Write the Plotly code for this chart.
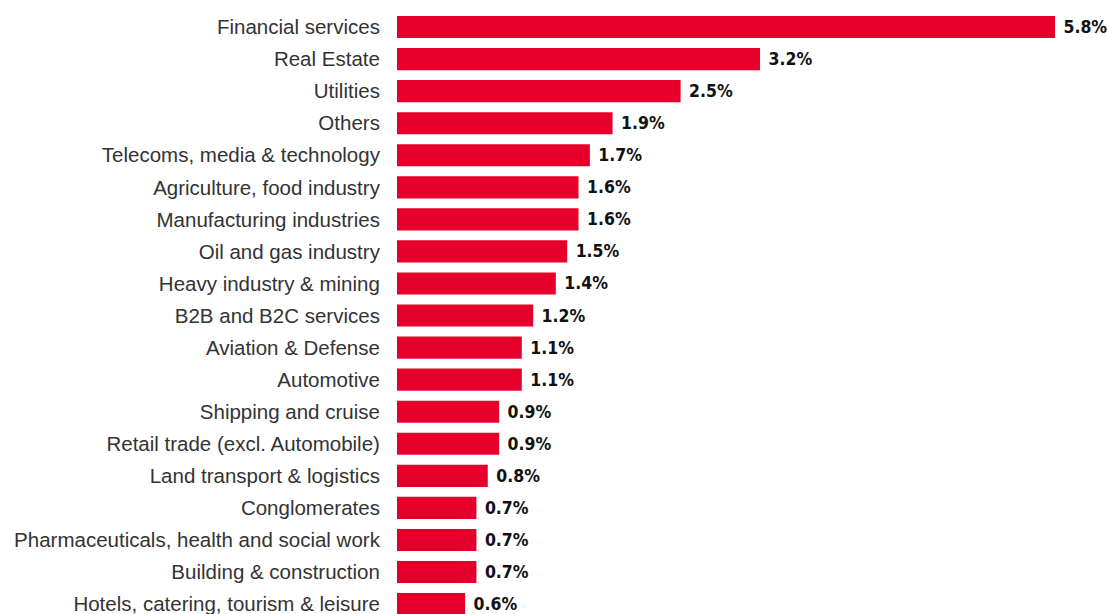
import plotly.graph_objects as go

categories = [
    "Financial services", "Real Estate", "Utilities", "Others",
    "Telecoms, media & technology", "Agriculture, food industry",
    "Manufacturing industries", "Oil and gas industry",
    "Heavy industry & mining", "B2B and B2C services",
    "Aviation & Defense", "Automotive", "Shipping and cruise",
    "Retail trade (excl. Automobile)", "Land transport & logistics",
    "Conglomerates", "Pharmaceuticals, health and social work",
    "Building & construction", "Hotels, catering, tourism & leisure",
]
values = [5.8, 3.2, 2.5, 1.9, 1.7, 1.6, 1.6, 1.5, 1.4, 1.2,
          1.1, 1.1, 0.9, 0.9, 0.8, 0.7, 0.7, 0.7, 0.6]
value_labels = [f" {v:.1f}%" for v in values]

fig = go.Figure(go.Bar(
    x=values, y=categories, orientation="h",
    marker=dict(color="#E4002B", line=dict(width=0)),
    width=0.69,
    text=value_labels, textposition="outside",
    textfont=dict(family="DejaVu Sans Condensed, Liberation Sans Narrow, sans-serif",
                  size=17.5, color="#111111", weight="bold"),
    cliponaxis=False,
))

fig.update_layout(
    width=1107, height=614,
    margin=dict(l=397, r=52, t=11, b=0, autoexpand=False),
    paper_bgcolor="white", plot_bgcolor="white",
    showlegend=False,
    xaxis=dict(range=[0, 5.8], visible=False, showgrid=False, zeroline=False),
    yaxis=dict(
        type="category", range=[18.31, -0.5],
        showgrid=False, zeroline=False, showline=False,
        ticks="outside", ticklen=12, tickcolor="rgba(0,0,0,0)",
        tickfont=dict(family="Liberation Sans", size=20.5, color="#333333"),
    ),
)

fig.write_html(
    "out.html",
    config={"displayModeBar": False},
    post_script="document.body.style.margin='0';document.body.style.padding='0';",
)
